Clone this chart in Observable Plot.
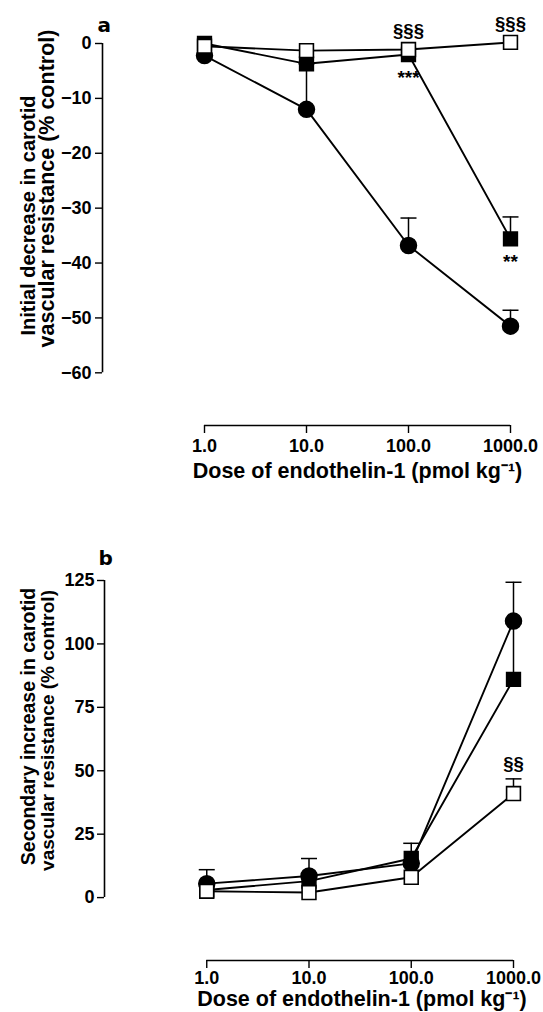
<!DOCTYPE html>
<html>
<head>
<meta charset="utf-8">
<script src="https://cdn.jsdelivr.net/npm/d3@7"></script>
<script src="https://cdn.jsdelivr.net/npm/@observablehq/plot@0.6"></script>
<style>
  html, body { margin: 0; padding: 0; background: #fff; }
  #chart { width: 543px; }
  #chart svg { display: block; }
</style>
</head>
<body>
<div id="chart"></div>
<script>
// ---- data ----
const doses = [1, 10, 100, 1000];
const xTicks = [1, 10, 100, 1000];
const xTitle = "Dose of endothelin-1 (pmol kg\u207B\u00B9)";

// panel a: initial decrease
const aYTicks = [0, -10, -20, -30, -40, -50, -60];
const aCircle = [-2.2, -12.0, -36.8, -51.5];
const aCircleErr = [0, 8.3, 5.0, 2.9];
const aFilledSq = [0.0, -3.7, -2.0, -35.6];
const aFilledSqErr = [0, 0, 0, 4.0];
const aOpenSq = [-0.5, -1.3, -1.1, 0.2];
const aOpenSqErr = [0, 0, 0, 0];
const aTitle1 = "Initial decrease in carotid";
const aTitle2 = "vascular resistance (% control)";
const aNotes = [
  {series: "open", dose: 100, text: "§§§", pos: "above"},
  {series: "open", dose: 1000, text: "§§§", pos: "above"},
  {series: "filled", dose: 100, text: "***", pos: "below"},
  {series: "filled", dose: 1000, text: "**", pos: "below"}
];

// panel b: secondary increase
const bYTicks = [0, 25, 50, 75, 100, 125];
const bCircle = [5.5, 8.5, 13.5, 109.0];
const bCircleErr = [5.5, 6.9, 0, 15.3];
const bFilledSq = [3.0, 6.5, 15.4, 86.0];
const bFilledSqErr = [0, 0, 6.0, 22.0];
const bOpenSq = [2.5, 2.0, 8.0, 41.0];
const bOpenSqErr = [0, 0, 0, 5.8];
const bTitle1 = "Secondary increase in carotid";
const bTitle2 = "vascular resistance (% control)";
const bNotes = [
  {series: "open", dose: 1000, text: "§§", pos: "above"}
];

// ---- helpers ----
const FONT = "'Liberation Sans', Arial, Helvetica, sans-serif";
function makeRows(values, errs, series) {
  return doses.map((dose, i) => ({dose, value: values[i], err: errs[i], series}));
}
const cap = {draw(ctx) { ctx.moveTo(-8, 0); ctx.lineTo(8, 0); }};

function panel({label, yTicks, yDomain, circle, filled, open, notes, title1, title2, L}) {
  const all = [...circle, ...filled, ...open];
  const lookup = (s, d) => ({circle, filled, open})[s].find(r => r.dose === d);
  const noteRows = notes.map(n => ({...n, value: lookup(n.series, n.dose).value + (n.pos === "above" ? lookup(n.series, n.dose).err : 0)}));
  const errRows = all.filter(r => r.err > 0);
  const yMin = d3.min(yTicks), yMax = d3.max(yTicks);
  return Plot.plot({
    width: 543,
    height: L.height,
    marginLeft: L.left, marginRight: L.right, marginTop: L.top, marginBottom: L.bottom,
    style: {fontFamily: FONT, background: "white", color: "black", overflow: "visible"},
    x: {type: "log", domain: [0.1, d3.max(xTicks)]},
    y: {domain: yDomain},
    marks: [
      // axes
      Plot.ruleX([0.1], {y1: yMin, y2: yMax, strokeWidth: 1.6}),
      Plot.axisY(yTicks, {anchor: "left", tickSize: 7, tickPadding: L.yTickPad, tickFormat: d3.format("d"),
        fontSize: 18, fontWeight: "bold", label: null, strokeWidth: 1.4}),
      Plot.ruleY([yDomain[0]], {x1: d3.min(xTicks), x2: d3.max(xTicks), strokeWidth: 1.6}),
      Plot.axisX(xTicks, {anchor: "bottom", tickSize: 8, tickPadding: L.xTickPad, tickFormat: d3.format(".1f"),
        fontSize: 18, fontWeight: "bold", label: null, strokeWidth: 1.4}),
      // titles
      Plot.text([title1], {frameAnchor: "left", rotate: -90, dx: L.t1dx, dy: L.t1dy, fontSize: L.t1fs, fontWeight: "bold", textAnchor: "middle", lineAnchor: "middle"}),
      Plot.text([title2], {frameAnchor: "left", rotate: -90, dx: L.t2dx, dy: L.t2dy, fontSize: L.t2fs, fontWeight: "bold", textAnchor: "middle", lineAnchor: "middle"}),
      Plot.text([xTitle], {frameAnchor: "bottom", dx: L.xtdx, dy: L.xtdy, lineAnchor: "bottom", fontSize: 21.5, fontWeight: "bold"}),
      Plot.text([label], {frameAnchor: "top-left", dx: L.ldx, dy: L.ldy, lineAnchor: "middle", fontSize: 20, fontWeight: "bold", fontFamily: "'DejaVu Sans', sans-serif"}),
      // lines
      Plot.line(all, {x: "dose", y: "value", z: "series", stroke: "black", strokeWidth: 1.9}),
      // error bars
      Plot.ruleX(errRows, {x: "dose", y1: "value", y2: d => d.value + d.err, stroke: "black", strokeWidth: 1.5}),
      Plot.dot(errRows, {x: "dose", y: d => d.value + d.err, symbol: cap, stroke: "black", strokeWidth: 1.5, fill: "none"}),
      // markers
      Plot.dot(circle, {x: "dose", y: "value", symbol: "circle", r: 8, fill: "black", stroke: "black"}),
      Plot.dot(filled, {x: "dose", y: "value", symbol: "square", r: 7.8, fill: "black", stroke: "black"}),
      Plot.dot(open, {x: "dose", y: "value", symbol: "square", r: 7.8, fill: "white", stroke: "black", strokeWidth: 1.6}),
      // significance
      Plot.text(noteRows.filter(n => n.pos === "above"), {x: "dose", y: "value", text: "text", dy: L.aboveDy, fontSize: 18.5, fontWeight: "bold"}),
      Plot.text(noteRows.filter(n => n.pos === "below"), {x: "dose", y: "value", text: "text", dy: 23, fontSize: 19, fontWeight: "bold"})
    ]
  });
}

const chart = document.getElementById("chart");
chart.append(panel({
  label: "a", yTicks: aYTicks, yDomain: [-69.6, 0],
  circle: makeRows(aCircle, aCircleErr, "circle"),
  filled: makeRows(aFilledSq, aFilledSqErr, "filled"),
  open: makeRows(aOpenSq, aOpenSqErr, "open"),
  notes: aNotes, title1: aTitle1, title2: aTitle2,
  L: {height: 490, left: 102, right: 33, top: 43, bottom: 65, xTickPad: 6, yTickPad: 4,
      t1fs: 20, t2fs: 21.5,
      t1dx: -74, t1dy: -19, t2dx: -55, t2dy: -46, xtdx: 51, xtdy: 52, ldx: -5, ldy: -18, aboveDy: -18}
}));
chart.append(panel({
  label: "b", yTicks: bYTicks, yDomain: [-24.8, 125],
  circle: makeRows(bCircle, bCircleErr, "circle"),
  filled: makeRows(bFilledSq, bFilledSqErr, "filled"),
  open: makeRows(bOpenSq, bOpenSqErr, "open"),
  notes: bNotes, title1: bTitle1, title2: bTitle2,
  L: {height: 522, left: 104, right: 30, top: 90, bottom: 52, xTickPad: 3, yTickPad: 3,
      t1fs: 19.5, t2fs: 19,
      t1dx: -76, t1dy: -44, t2dx: -57, t2dy: -40, xtdx: 53, xtdy: 45, ldx: -6, ldy: -22, aboveDy: -15}
}));
</script>
</body>
</html>
